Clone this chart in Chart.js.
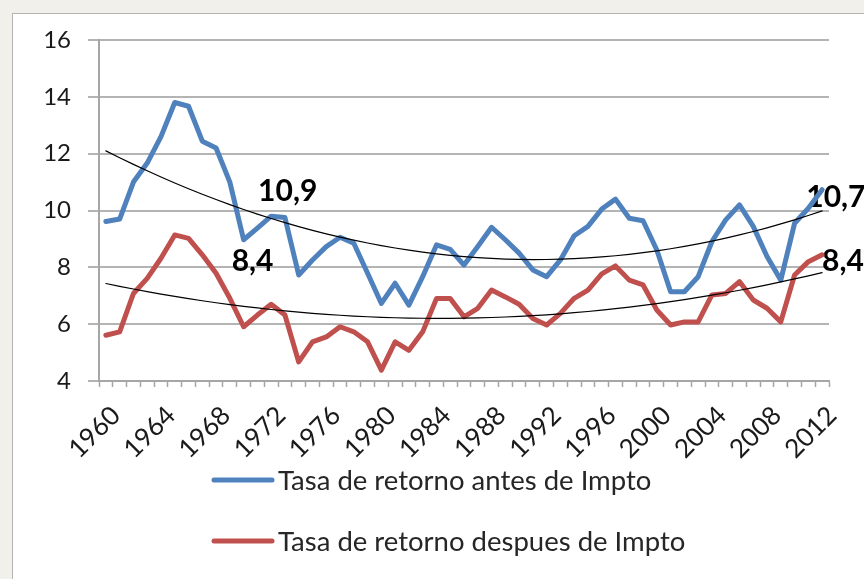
<!DOCTYPE html>
<html><head><meta charset="utf-8">
<script src="https://cdn.jsdelivr.net/npm/chart.js@4"></script>
<style>
html,body{margin:0;padding:0;background:#f1f0ea;width:864px;height:579px;overflow:hidden}
#panel{position:absolute;left:12px;top:13px;width:900px;height:620px;background:#fff;border:1px solid #b4b4b4;box-sizing:border-box}
#wrap{position:absolute;left:0;top:0;width:864px;height:579px}
</style></head><body>
<div id="panel"></div>
<div id="wrap"><canvas id="c" width="864" height="579"></canvas></div>
<script>
const years = [1960,1961,1962,1963,1964,1965,1966,1967,1968,1969,
  1970,1971,1972,1973,1974,1975,1976,1977,1978,1979,
  1980,1981,1982,1983,1984,1985,1986,1987,1988,1989,
  1990,1991,1992,1993,1994,1995,1996,1997,1998,1999,
  2000,2001,2002,2003,2004,2005,2006,2007,2008,2009,
  2010,2011,2012];
const antesImpto = [9.61,9.70,11.0,11.67,12.6,13.8,13.67,12.44,12.2,11.0,
  8.97,9.38,9.8,9.75,7.73,8.26,8.73,9.06,8.85,7.79,
  6.73,7.44,6.67,7.67,8.79,8.63,8.08,8.73,9.41,8.97,
  8.5,7.91,7.67,8.26,9.11,9.44,10.05,10.4,9.73,9.64,
  8.61,7.14,7.14,7.67,8.91,9.67,10.2,9.44,8.38,7.55,
  9.55,10.08,10.73];
const despuesImpto = [5.61,5.73,7.08,7.61,8.32,9.14,9.02,8.44,7.79,6.91,
  5.91,6.32,6.7,6.32,4.67,5.38,5.55,5.91,5.73,5.38,
  4.38,5.38,5.08,5.73,6.9,6.9,6.26,6.56,7.2,6.96,
  6.7,6.2,5.97,6.38,6.91,7.2,7.77,8.05,7.55,7.38,
  6.5,5.97,6.08,6.08,7.03,7.08,7.5,6.85,6.56,6.08,
  7.73,8.2,8.44];
const seriesLabels = ['Tasa de retorno antes de Impto','Tasa de retorno despues de Impto'];
const seriesColors = ['#4f81bd','#c0504d'];
const yMin = 4, yMax = 16, yStep = 2;
const valueLabels = ['10,9','8,4','10,7','8,4'];

// Excel-style 2nd order polynomial trend line (least squares on x = 1..n)
function quadraticTrend(vals){
  let s = [0,0,0,0,0], t = [0,0,0];
  vals.forEach((v,i)=>{const x=i+1;
    s[0]+=1; s[1]+=x; s[2]+=x*x; s[3]+=x*x*x; s[4]+=x*x*x*x;
    t[0]+=v; t[1]+=v*x; t[2]+=v*x*x;});
  const A=[[s[0],s[1],s[2],t[0]],[s[1],s[2],s[3],t[1]],[s[2],s[3],s[4],t[2]]];
  for(let c=0;c<3;c++){
    for(let r=c+1;r<3;r++){const f=A[r][c]/A[c][c];for(let k=c;k<4;k++)A[r][k]-=f*A[c][k];}
  }
  const b=[0,0,0];
  for(let r=2;r>=0;r--){let sum=A[r][3];for(let k=r+1;k<3;k++)sum-=A[r][k]*b[k];b[r]=sum/A[r][r];}
  return vals.map((v,i)=>{const x=i+1;return b[0]+b[1]*x+b[2]*x*x;});
}

const annotations = [
  {text: valueLabels[0], x: 13.2, y: 10.67, align: 'center'},
  {text: valueLabels[1], x: 10.65, y: 8.2, align: 'center'},
  {text: valueLabels[2], x: 50.85, y: 10.48, align: 'left'},
  {text: valueLabels[3], x: 51.99, y: 8.2, align: 'left'}
];

const annotPlugin = {
  id: 'valueText',
  beforeDatasetsDraw(chart){
    const ctx = chart.ctx, xs = chart.scales.x, ys = chart.scales.y;
    ctx.save();
    ctx.font = 'bold 30px Lato';
    ctx.fillStyle = '#000';
    ctx.textBaseline = 'middle';
    annotations.forEach(a=>{
      ctx.textAlign = a.align;
      ctx.fillText(a.text, xs.getPixelForValue(a.x), ys.getPixelForValue(a.y));
    });
    ctx.restore();
  }
};

const legendPlugin = {
  id: 'legendRows',
  afterDraw(chart){
    const ctx = chart.ctx;
    ctx.save();
    chart.data.datasets.filter(d=>!d.isTrend).forEach((d,i)=>{
      const y = 480 + i*61;
      ctx.strokeStyle = d.borderColor;
      ctx.lineWidth = 5;
      ctx.lineCap = 'round';
      ctx.beginPath(); ctx.moveTo(214, y); ctx.lineTo(272, y); ctx.stroke();
      ctx.fillStyle = '#262626';
      ctx.font = '27.5px Lato';
      ctx.textAlign = 'left';
      ctx.textBaseline = 'middle';
      ctx.fillText(d.label, 278, y+1);
    });
    ctx.restore();
  }
};

const ctx = document.getElementById('c').getContext('2d');
new Chart(ctx, {
  type: 'line',
  data: {
    labels: years,
    datasets: [
      {label: seriesLabels[0], data: antesImpto, borderColor: seriesColors[0], borderWidth: 5, order: 2},
      {label: seriesLabels[1], data: despuesImpto, borderColor: seriesColors[1], borderWidth: 5, order: 2},
      {label: 'trend antes', data: quadraticTrend(antesImpto), borderColor: '#000', borderWidth: 1.2, order: 1, isTrend: true},
      {label: 'trend despues', data: quadraticTrend(despuesImpto), borderColor: '#000', borderWidth: 1.2, order: 1, isTrend: true}
    ]
  },
  options: {
    responsive: false,
    animation: false,
    layout: {padding: {left: 0, top: 40, right: 35, bottom: 118}},
    plugins: {legend: {display: false}, tooltip: {enabled: false}},
    elements: {
      point: {radius: 0},
      line: {tension: 0, borderJoinStyle: 'round', borderCapStyle: 'round', fill: false}
    },
    scales: {
      x: {
        offset: true,
        grid: {offset: true, drawOnChartArea: false, drawTicks: true, tickLength: 6, tickColor: '#a6a6a6', tickWidth: 1.5},
        border: {color: '#a6a6a6', width: 2},
        ticks: {
          autoSkip: false, maxRotation: 45, minRotation: 45, padding: 13, labelOffset: 10,
          font: {family: 'Lato', size: 26}, color: '#1a1a1a',
          callback: (v, i) => (years[i] % 4 === 0 ? String(years[i]) : '')
        },
        afterFit: s => { s.height = 80; }
      },
      y: {
        min: yMin, max: yMax,
        ticks: {stepSize: yStep, padding: 17, font: {family: 'Lato', size: 24}, color: '#1a1a1a'},
        grid: {color: '#b4b4b4', lineWidth: 2, tickLength: 11},
        border: {color: '#a6a6a6', width: 2},
        afterFit: s => { s.width = 99; }
      }
    }
  },
  plugins: [annotPlugin, legendPlugin]
});
</script>
</body></html>
